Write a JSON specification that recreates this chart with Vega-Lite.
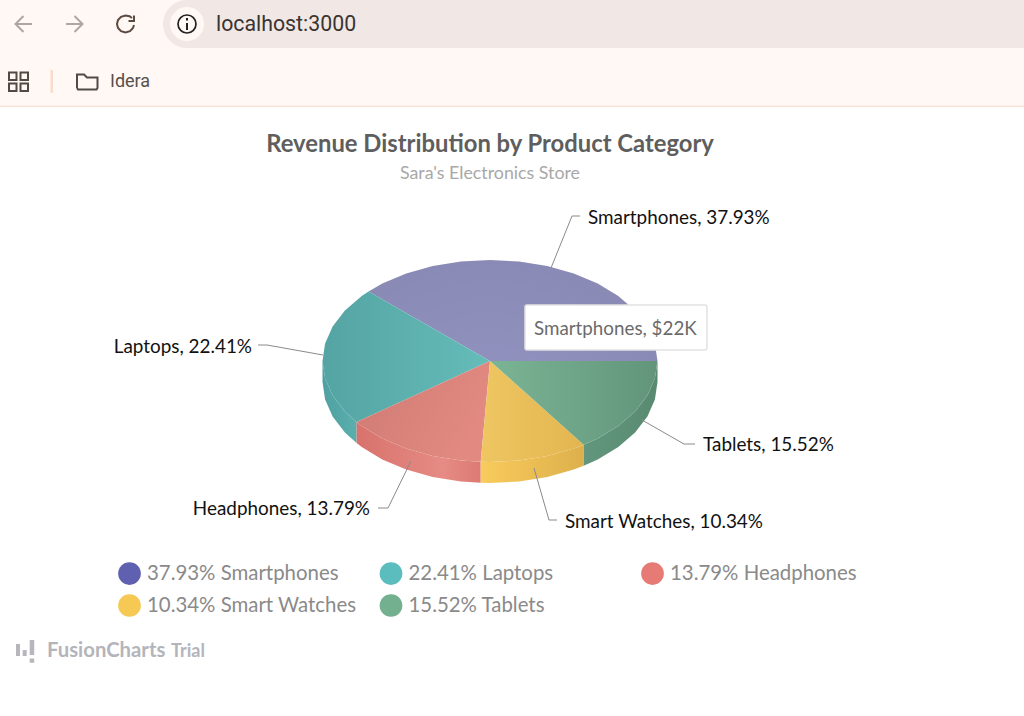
{
  "$schema": "https://vega.github.io/schema/vega-lite/v6.json",
  "width": 1024,
  "height": 716,
  "padding": 0,
  "autosize": {"type": "fit", "contains": "padding"},
  "background": "#ffffff",
  "view": {"stroke": null},
  "config": {"font": "Lato"},
  "datasets": {
    "slices": [
      {"slice": "Smartphones", "share": 37.93, "revenue": "$22K", "legend": "37.93% Smartphones", "label": "Smartphones, 37.93%", "x": 588, "y": 218},
      {"slice": "Laptops", "share": 22.41, "revenue": "$13K", "legend": "22.41% Laptops", "label": "Laptops, 22.41%", "x": 252, "y": 347},
      {"slice": "Headphones", "share": 13.79, "revenue": "$8K", "legend": "13.79% Headphones", "label": "Headphones, 13.79%", "x": 370, "y": 509},
      {"slice": "Smart Watches", "share": 10.34, "revenue": "$6K", "legend": "10.34% Smart Watches", "label": "Smart Watches, 10.34%", "x": 565, "y": 522},
      {"slice": "Tablets", "share": 15.52, "revenue": "$9K", "legend": "15.52% Tablets", "label": "Tablets, 15.52%", "x": 703, "y": 445}
    ],
    "smartphones_top": [
      {"i":0,"x":490,"y":361},{"i":1,"x":657.5,"y":361},{"i":2,"x":654.9,"y":343.5},{"i":3,"x":647.4,"y":326.5},{"i":4,"x":635.1,"y":310.5},{"i":5,"x":618.3,"y":296.1},{"i":6,"x":597.7,"y":283.6},{"i":7,"x":573.8,"y":273.5},{"i":8,"x":547.3,"y":266.1},{"i":9,"x":519.1,"y":261.5},{"i":10,"x":490,"y":260},{"i":11,"x":460.9,"y":261.5},{"i":12,"x":432.7,"y":266.1},{"i":13,"x":406.2,"y":273.5},{"i":14,"x":382.3,"y":283.6},{"i":15,"x":368.5,"y":291.5}
    ],
    "laptops_top": [
      {"i":0,"x":490,"y":361},{"i":1,"x":368.5,"y":291.5},{"i":2,"x":361.7,"y":296.1},{"i":3,"x":344.9,"y":310.5},{"i":4,"x":332.6,"y":326.5},{"i":5,"x":325.1,"y":343.5},{"i":6,"x":322.5,"y":361},{"i":7,"x":325.1,"y":378.5},{"i":8,"x":332.6,"y":395.5},{"i":9,"x":344.9,"y":411.5},{"i":10,"x":356.6,"y":422.1}
    ],
    "headphones_top": [
      {"i":0,"x":490,"y":361},{"i":1,"x":356.6,"y":422.1},{"i":2,"x":361.7,"y":425.9},{"i":3,"x":382.3,"y":438.4},{"i":4,"x":406.2,"y":448.5},{"i":5,"x":432.7,"y":455.9},{"i":6,"x":460.9,"y":460.5},{"i":7,"x":480.7,"y":461.8}
    ],
    "watches_top": [
      {"i":0,"x":490,"y":361},{"i":1,"x":480.7,"y":461.8},{"i":2,"x":490,"y":462},{"i":3,"x":519.1,"y":460.5},{"i":4,"x":547.3,"y":455.9},{"i":5,"x":573.8,"y":448.5},{"i":6,"x":583.7,"y":444.7}
    ],
    "tablets_top": [
      {"i":0,"x":490,"y":361},{"i":1,"x":583.7,"y":444.7},{"i":2,"x":597.7,"y":438.4},{"i":3,"x":618.3,"y":425.9},{"i":4,"x":635.1,"y":411.5},{"i":5,"x":647.4,"y":395.5},{"i":6,"x":654.9,"y":378.5},{"i":7,"x":657.5,"y":361}
    ],
    "laptops_side": [
      {"i":0,"x":322.5,"y":361},{"i":1,"x":325.1,"y":378.5},{"i":2,"x":332.6,"y":395.5},{"i":3,"x":344.9,"y":411.5},{"i":4,"x":356.6,"y":422.1},{"i":5,"x":356.6,"y":443.1},{"i":6,"x":344.9,"y":432.5},{"i":7,"x":332.6,"y":416.5},{"i":8,"x":325.1,"y":399.5},{"i":9,"x":322.5,"y":382}
    ],
    "headphones_side": [
      {"i":0,"x":356.6,"y":422.1},{"i":1,"x":361.7,"y":425.9},{"i":2,"x":382.3,"y":438.4},{"i":3,"x":406.2,"y":448.5},{"i":4,"x":432.7,"y":455.9},{"i":5,"x":460.9,"y":460.5},{"i":6,"x":480.7,"y":461.8},{"i":7,"x":480.7,"y":482.8},{"i":8,"x":460.9,"y":481.5},{"i":9,"x":432.7,"y":476.9},{"i":10,"x":406.2,"y":469.5},{"i":11,"x":382.3,"y":459.4},{"i":12,"x":361.7,"y":446.9},{"i":13,"x":356.6,"y":443.1}
    ],
    "watches_side": [
      {"i":0,"x":480.7,"y":461.8},{"i":1,"x":490,"y":462},{"i":2,"x":519.1,"y":460.5},{"i":3,"x":547.3,"y":455.9},{"i":4,"x":573.8,"y":448.5},{"i":5,"x":583.7,"y":444.7},{"i":6,"x":583.7,"y":465.7},{"i":7,"x":573.8,"y":469.5},{"i":8,"x":547.3,"y":476.9},{"i":9,"x":519.1,"y":481.5},{"i":10,"x":490,"y":483},{"i":11,"x":480.7,"y":482.8}
    ],
    "tablets_side": [
      {"i":0,"x":583.7,"y":444.7},{"i":1,"x":597.7,"y":438.4},{"i":2,"x":618.3,"y":425.9},{"i":3,"x":635.1,"y":411.5},{"i":4,"x":647.4,"y":395.5},{"i":5,"x":654.9,"y":378.5},{"i":6,"x":657.5,"y":361},{"i":7,"x":657.5,"y":382},{"i":8,"x":654.9,"y":399.5},{"i":9,"x":647.4,"y":416.5},{"i":10,"x":635.1,"y":432.5},{"i":11,"x":618.3,"y":446.9},{"i":12,"x":597.7,"y":459.4},{"i":13,"x":583.7,"y":465.7}
    ],
    "leaders": [
      {"slice":"Smartphones","i":0,"x":551,"y":268},{"slice":"Smartphones","i":1,"x":572,"y":216},{"slice":"Smartphones","i":2,"x":580,"y":216},
      {"slice":"Laptops","i":0,"x":323,"y":355},{"slice":"Laptops","i":1,"x":267,"y":345},{"slice":"Laptops","i":2,"x":258,"y":345},
      {"slice":"Headphones","i":0,"x":411,"y":461},{"slice":"Headphones","i":1,"x":388,"y":508},{"slice":"Headphones","i":2,"x":378,"y":508},
      {"slice":"Smart Watches","i":0,"x":534,"y":468},{"slice":"Smart Watches","i":1,"x":549,"y":520},{"slice":"Smart Watches","i":2,"x":557,"y":520},
      {"slice":"Tablets","i":0,"x":642,"y":420},{"slice":"Tablets","i":1,"x":684,"y":444},{"slice":"Tablets","i":2,"x":695,"y":444}
    ],
    "nav_grey": [
      {"g":"a","i":0,"x":32,"y":24},{"g":"a","i":1,"x":15.5,"y":24},
      {"g":"b","i":0,"x":23.5,"y":16},{"g":"b","i":1,"x":15.5,"y":24},{"g":"b","i":2,"x":23.5,"y":32},
      {"g":"c","i":0,"x":66,"y":24},{"g":"c","i":1,"x":82.5,"y":24},
      {"g":"d","i":0,"x":74.5,"y":16},{"g":"d","i":1,"x":82.5,"y":24},{"g":"d","i":2,"x":74.5,"y":32}
    ],
    "reload": [
      {"g":"arc","i":0,"x":132,"y":18},{"g":"arc","i":1,"x":129.5,"y":16.2},{"g":"arc","i":2,"x":125.5,"y":15.5},{"g":"arc","i":3,"x":121,"y":16.8},{"g":"arc","i":4,"x":118,"y":20},{"g":"arc","i":5,"x":117,"y":24},{"g":"arc","i":6,"x":118,"y":28},{"g":"arc","i":7,"x":121,"y":31.2},{"g":"arc","i":8,"x":125.5,"y":32.5},{"g":"arc","i":9,"x":130,"y":31.2},{"g":"arc","i":10,"x":133,"y":28},{"g":"arc","i":11,"x":134,"y":25},
      {"g":"head","i":0,"x":134,"y":15.5},{"g":"head","i":1,"x":134,"y":21},{"g":"head","i":2,"x":128.5,"y":21}
    ],
    "folder": [
      {"i":0,"x":77,"y":88},{"i":1,"x":77,"y":74.5},{"i":2,"x":84,"y":74.5},{"i":3,"x":87,"y":77.5},{"i":4,"x":97.5,"y":77.5},{"i":5,"x":97.5,"y":88},{"i":6,"x":96.5,"y":89.5},{"i":7,"x":78,"y":89.5},{"i":8,"x":77,"y":88}
    ]
  },
  "encoding": {
    "x": {"field": "x", "type": "quantitative", "axis": null, "scale": {"domain": [0, 1024], "nice": false, "zero": false}},
    "y": {"field": "y", "type": "quantitative", "axis": null, "scale": {"domain": [716, 0], "nice": false, "zero": false}}
  },
  "layer": [
    {
      "data": {"values": [{"x": 0, "x2": 1024, "y": 0, "y2": 106}]},
      "mark": {"type": "rect", "color": "#fff8f5"},
      "encoding": {"x2": {"field": "x2"}, "y2": {"field": "y2"}}
    },
    {
      "data": {"values": [{"x": 0, "x2": 1024, "y": 105.5, "y2": 107}]},
      "mark": {"type": "rect", "color": "#f8e3d8"},
      "encoding": {"x2": {"field": "x2"}, "y2": {"field": "y2"}}
    },
    {
      "data": {"values": [{"x": 163, "x2": 1024, "y": 0, "y2": 48}]},
      "mark": {"type": "rect", "color": "#f1e8e5", "cornerRadiusTopLeft": 24, "cornerRadiusBottomLeft": 24},
      "encoding": {"x2": {"field": "x2"}, "y2": {"field": "y2"}}
    },
    {
      "data": {"values": [{"x": 187, "y": 24}]},
      "mark": {"type": "point", "shape": "circle", "filled": true, "color": "#fff8f5", "size": 1156, "opacity": 1}
    },
    {
      "data": {"values": [{"x": 187, "y": 24}]},
      "mark": {"type": "point", "shape": "circle", "filled": false, "color": "#222222", "size": 324, "strokeWidth": 1.7, "opacity": 1}
    },
    {
      "data": {"values": [{"x": 186, "x2": 188, "y": 23, "y2": 30}, {"x": 186, "x2": 188, "y": 18, "y2": 20.5}]},
      "mark": {"type": "rect", "color": "#222222"},
      "encoding": {"x2": {"field": "x2"}, "y2": {"field": "y2"}}
    },
    {
      "data": {"name": "nav_grey"},
      "mark": {"type": "line", "color": "#aca7a4", "strokeWidth": 2},
      "encoding": {"detail": {"field": "g"}, "order": {"field": "i"}}
    },
    {
      "data": {"name": "reload"},
      "mark": {"type": "line", "color": "#5c4a40", "strokeWidth": 2},
      "encoding": {"detail": {"field": "g"}, "order": {"field": "i"}}
    },
    {
      "data": {"values": [{"x": 9, "x2": 16.5, "y": 72.5, "y2": 80}, {"x": 20.5, "x2": 28, "y": 72.5, "y2": 80}, {"x": 9, "x2": 16.5, "y": 83.5, "y2": 91}, {"x": 20.5, "x2": 28, "y": 83.5, "y2": 91}]},
      "mark": {"type": "rect", "fillOpacity": 0, "stroke": "#504a45", "strokeWidth": 2},
      "encoding": {"x2": {"field": "x2"}, "y2": {"field": "y2"}}
    },
    {
      "data": {"values": [{"x": 50.5, "x2": 53, "y": 70, "y2": 93}]},
      "mark": {"type": "rect", "color": "#fadccb"},
      "encoding": {"x2": {"field": "x2"}, "y2": {"field": "y2"}}
    },
    {
      "data": {"name": "folder"},
      "mark": {"type": "line", "color": "#514b46", "strokeWidth": 2},
      "encoding": {"order": {"field": "i"}}
    },
    {
      "data": {"values": [{"t": "localhost:3000", "x": 216, "y": 25}]},
      "mark": {"type": "text", "align": "left", "baseline": "middle", "font": "Roboto", "fontSize": 21.3, "color": "#3a3432"},
      "encoding": {"text": {"field": "t"}}
    },
    {
      "data": {"values": [{"t": "Idera", "x": 110, "y": 82}]},
      "mark": {"type": "text", "align": "left", "baseline": "middle", "font": "Roboto", "fontSize": 18, "color": "#55504c"},
      "encoding": {"text": {"field": "t"}}
    },
    {
      "data": {"values": [{"t": "Revenue Distribution by Product Category", "x": 490, "y": 145}]},
      "mark": {"type": "text", "align": "center", "baseline": "middle", "fontSize": 23.8, "fontWeight": 700, "color": "#5e5e5e"},
      "encoding": {"text": {"field": "t"}}
    },
    {
      "data": {"values": [{"t": "Sara's Electronics Store", "x": 490, "y": 174}]},
      "mark": {"type": "text", "align": "center", "baseline": "middle", "fontSize": 17.8, "color": "#a8a8a8"},
      "encoding": {"text": {"field": "t"}}
    },
    {
      "data": {"name": "laptops_side"},
      "mark": {"type": "line", "filled": true, "strokeWidth": 0, "fill": {"gradient": "linear", "x1": 0, "y1": 0, "x2": 1, "y2": 0, "stops": [{"offset": 0, "color": "#50a0a0"}, {"offset": 1, "color": "#5aafad"}]}},
      "encoding": {"order": {"field": "i"}}
    },
    {
      "data": {"name": "headphones_side"},
      "mark": {"type": "line", "filled": true, "strokeWidth": 0, "fill": {"gradient": "linear", "x1": 0, "y1": 0, "x2": 1, "y2": 0, "stops": [{"offset": 0, "color": "#d8726c"}, {"offset": 0.7, "color": "#e68b85"}, {"offset": 1, "color": "#dc7a74"}]}},
      "encoding": {"order": {"field": "i"}}
    },
    {
      "data": {"name": "watches_side"},
      "mark": {"type": "line", "filled": true, "strokeWidth": 0, "fill": {"gradient": "linear", "x1": 0, "y1": 0, "x2": 1, "y2": 0, "stops": [{"offset": 0, "color": "#f8cb5c"}, {"offset": 1, "color": "#deb04c"}]}},
      "encoding": {"order": {"field": "i"}}
    },
    {
      "data": {"name": "tablets_side"},
      "mark": {"type": "line", "filled": true, "strokeWidth": 0, "fill": {"gradient": "linear", "x1": 0, "y1": 0, "x2": 1, "y2": 0, "stops": [{"offset": 0, "color": "#62977d"}, {"offset": 1, "color": "#588a70"}]}},
      "encoding": {"order": {"field": "i"}}
    },
    {
      "data": {"name": "smartphones_top"},
      "mark": {"type": "line", "filled": true, "strokeWidth": 0, "fill": {"gradient": "radial", "x1": 0.42, "y1": 1, "r1": 0, "x2": 0.42, "y2": 1, "r2": 1, "stops": [{"offset": 0, "color": "#9696c5"}, {"offset": 1, "color": "#8484ae"}]}},
      "encoding": {"order": {"field": "i"}}
    },
    {
      "data": {"name": "laptops_top"},
      "mark": {"type": "line", "filled": true, "strokeWidth": 0, "fill": {"gradient": "linear", "x1": 0, "y1": 0, "x2": 1, "y2": 0, "stops": [{"offset": 0, "color": "#54a4a3"}, {"offset": 1, "color": "#65bcb9"}]}},
      "encoding": {"order": {"field": "i"}}
    },
    {
      "data": {"name": "headphones_top"},
      "mark": {"type": "line", "filled": true, "strokeWidth": 0, "fill": {"gradient": "linear", "x1": 0, "y1": 0, "x2": 1, "y2": 0.4, "stops": [{"offset": 0, "color": "#cd7a72"}, {"offset": 1, "color": "#e28a82"}]}},
      "encoding": {"order": {"field": "i"}}
    },
    {
      "data": {"name": "watches_top"},
      "mark": {"type": "line", "filled": true, "strokeWidth": 0, "fill": {"gradient": "linear", "x1": 0, "y1": 0, "x2": 1, "y2": 0, "stops": [{"offset": 0, "color": "#eec662"}, {"offset": 1, "color": "#e3b550"}]}},
      "encoding": {"order": {"field": "i"}}
    },
    {
      "data": {"name": "tablets_top"},
      "mark": {"type": "line", "filled": true, "strokeWidth": 0, "fill": {"gradient": "linear", "x1": 0, "y1": 0, "x2": 1, "y2": 0, "stops": [{"offset": 0, "color": "#7bb495"}, {"offset": 1, "color": "#62957a"}]}},
      "encoding": {"order": {"field": "i"}}
    },
    {
      "data": {"name": "leaders"},
      "mark": {"type": "line", "color": "#8a8a8a", "strokeWidth": 1},
      "encoding": {"detail": {"field": "slice"}, "order": {"field": "i"}}
    },
    {
      "data": {"values": [{"x": 525, "x2": 707, "y": 305, "y2": 350}]},
      "mark": {"type": "rect", "fill": "#ffffff", "stroke": "#e2e2e2", "strokeWidth": 1.5, "cornerRadius": 2},
      "encoding": {"x2": {"field": "x2"}, "y2": {"field": "y2"}}
    },
    {
      "data": {"values": [{"t": "Smartphones, $22K", "x": 534, "y": 329}]},
      "mark": {"type": "text", "align": "left", "baseline": "middle", "fontSize": 18.8, "color": "#6b6b6b"},
      "encoding": {"text": {"field": "t"}}
    },
    {
      "data": {"name": "slices"},
      "transform": [{"filter": "datum.x > 500"}],
      "mark": {"type": "text", "align": "left", "baseline": "middle", "fontSize": 18.9, "color": "#111111"},
      "encoding": {"text": {"field": "label"}}
    },
    {
      "data": {"name": "slices"},
      "transform": [{"filter": "datum.x < 500"}],
      "mark": {"type": "text", "align": "right", "baseline": "middle", "fontSize": 18.9, "color": "#111111"},
      "encoding": {"text": {"field": "label"}}
    },
    {
      "data": {"name": "slices"},
      "mark": {"type": "point", "filled": true, "size": 0},
      "encoding": {
        "color": {
          "field": "legend",
          "type": "nominal",
          "scale": {
            "domain": ["37.93% Smartphones", "22.41% Laptops", "13.79% Headphones", "10.34% Smart Watches", "15.52% Tablets"],
            "range": ["#5f60b0", "#5bbdbd", "#e57b74", "#f6c854", "#72b08f"]
          },
          "legend": {
            "title": null,
            "orient": "none",
            "direction": "horizontal",
            "legendX": 117,
            "legendY": 561,
            "columns": 3,
            "gridAlign": "all",
            "columnPadding": 21.5,
            "rowPadding": 8,
            "symbolType": "circle",
            "symbolSize": 515,
            "symbolOpacity": 1,
            "symbolOffset": 0,
            "labelOffset": 5,
            "labelFontSize": 20.4,
            "labelColor": "#8a8a8a",
            "labelLimit": 300
          }
        }
      }
    },
    {
      "data": {"values": [{"x": 16, "x2": 20, "y": 644, "y2": 656}, {"x": 22.7, "x2": 26.7, "y": 650, "y2": 656}, {"x": 29.7, "x2": 34.2, "y": 640, "y2": 655}, {"x": 29.7, "x2": 34.2, "y": 658.5, "y2": 662.7}]},
      "mark": {"type": "rect", "color": "#b6b6bc"},
      "encoding": {"x2": {"field": "x2"}, "y2": {"field": "y2"}}
    },
    {
      "data": {"values": [{"t": "FusionCharts", "x": 47, "y": 651}]},
      "mark": {"type": "text", "align": "left", "baseline": "middle", "fontSize": 20.3, "fontWeight": 700, "color": "#b4b4ba"},
      "encoding": {"text": {"field": "t"}}
    },
    {
      "data": {"values": [{"t": "Trial", "x": 171, "y": 652}]},
      "mark": {"type": "text", "align": "left", "baseline": "middle", "fontSize": 18, "fontWeight": 700, "color": "#b4b4ba"},
      "encoding": {"text": {"field": "t"}}
    }
  ]
}
